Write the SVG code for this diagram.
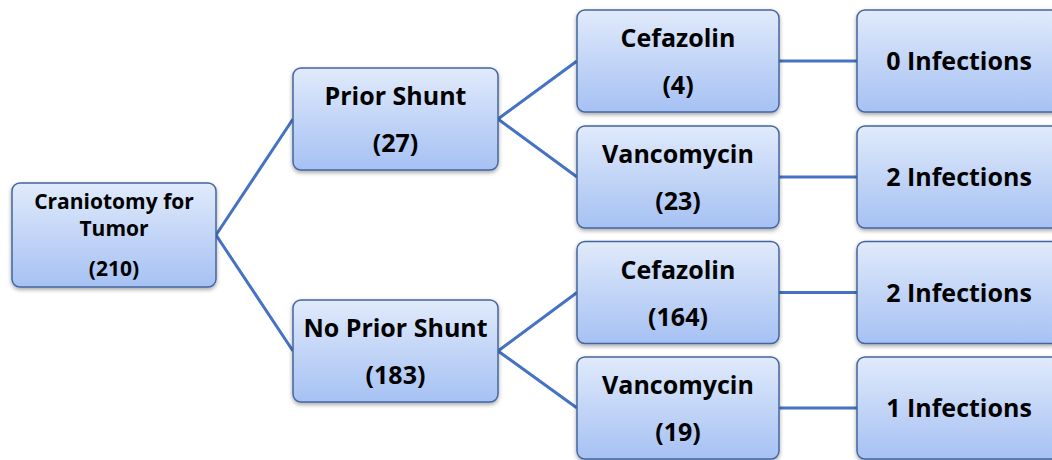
<svg xmlns="http://www.w3.org/2000/svg" width="1052" height="460" viewBox="0 0 1052 460">
<defs>
<linearGradient id="g" x1="0" y1="0" x2="0" y2="1">
<stop offset="0" stop-color="#e0eafb"/>
<stop offset="1" stop-color="#a6c1f3"/>
</linearGradient>
<filter id="sh" x="-10%" y="-10%" width="120%" height="130%">
<feDropShadow dx="0" dy="2" stdDeviation="2" flood-color="#000" flood-opacity="0.35"/>
</filter>
<style>
.b{fill:url(#g);stroke:#44659f;stroke-width:1.5;filter:url(#sh)}
.t{font-family:"Open Sans","Liberation Sans",sans-serif;font-weight:bold;fill:#000;text-anchor:middle;font-size:25px}
.r{font-size:21px}
.l{stroke:#4472c4;stroke-width:3;fill:none}
</style>
</defs>
<rect width="1052" height="460" fill="#fff"/>
<g id="connectors">
<path class="l" d="M216 235 L293 119 M216 235 L293 351"/>
<path class="l" d="M498 119 L577 61 M498 119 L577 177"/>
<path class="l" d="M498 351 L577 292.5 M498 351 L577 408"/>
<path class="l" d="M779 61 H857 M779 177 H857 M779 292.5 H857 M779 408 H857"/>
</g>
<g id="root">
<rect class="b" x="12" y="183" width="204" height="104" rx="8"/>
<text class="t r" x="114" y="209">Craniotomy for</text>
<text class="t r" x="114" y="236">Tumor</text>
<text class="t r" x="114" y="276">(210)</text>
</g>
<g id="prior">
<rect class="b" x="293" y="68" width="205" height="102" rx="8"/>
<text class="t" x="395.5" y="105">Prior Shunt</text>
<text class="t" x="395.5" y="152">(27)</text>
</g>
<g id="noprior">
<rect class="b" x="293" y="300" width="205" height="102" rx="8"/>
<text class="t" x="395.5" y="337">No Prior Shunt</text>
<text class="t" x="395.5" y="384">(183)</text>
</g>
<g id="cef1">
<rect class="b" x="577" y="10" width="202" height="102" rx="8"/>
<text class="t" x="678" y="47">Cefazolin</text>
<text class="t" x="678" y="94">(4)</text>
</g>
<g id="van1">
<rect class="b" x="577" y="126" width="202" height="102" rx="8"/>
<text class="t" x="678" y="163">Vancomycin</text>
<text class="t" x="678" y="210">(23)</text>
</g>
<g id="cef2">
<rect class="b" x="577" y="241.5" width="202" height="102" rx="8"/>
<text class="t" x="678" y="278.5">Cefazolin</text>
<text class="t" x="678" y="325.5">(164)</text>
</g>
<g id="van2">
<rect class="b" x="577" y="357" width="202" height="102" rx="8"/>
<text class="t" x="678" y="394">Vancomycin</text>
<text class="t" x="678" y="441">(19)</text>
</g>
<g id="inf1">
<rect class="b" x="857" y="10" width="204" height="102" rx="8"/>
<text class="t" x="959" y="70">0 Infections</text>
</g>
<g id="inf2">
<rect class="b" x="857" y="126" width="204" height="102" rx="8"/>
<text class="t" x="959" y="186">2 Infections</text>
</g>
<g id="inf3">
<rect class="b" x="857" y="241.5" width="204" height="102" rx="8"/>
<text class="t" x="959" y="301.5">2 Infections</text>
</g>
<g id="inf4">
<rect class="b" x="857" y="357" width="204" height="102" rx="8"/>
<text class="t" x="959" y="417">1 Infections</text>
</g>
</svg>
